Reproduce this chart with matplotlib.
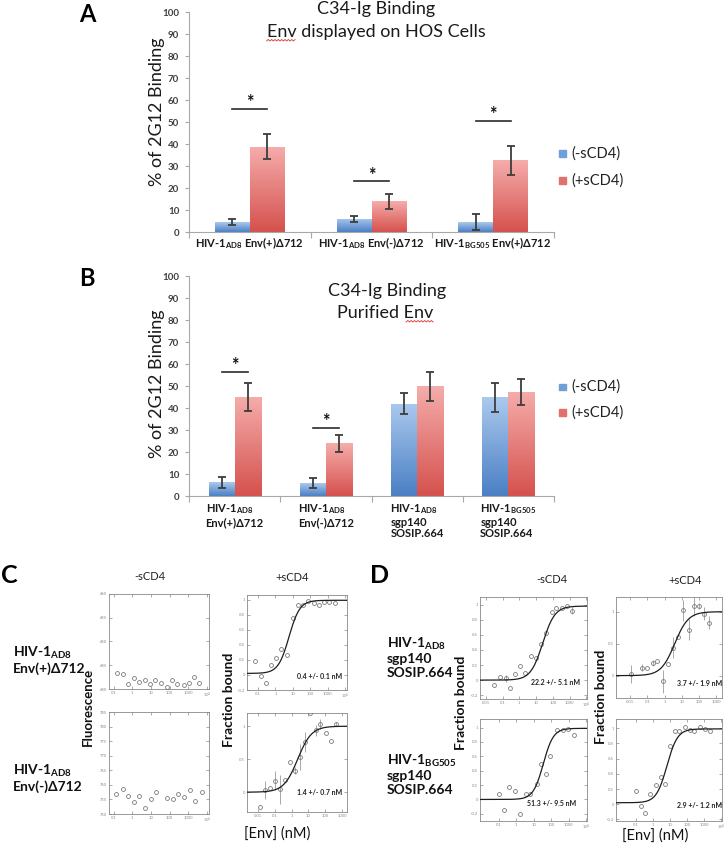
import numpy as np
import matplotlib
matplotlib.use('Agg')
import matplotlib.pyplot as plt
from matplotlib.colors import LinearSegmentedColormap
from matplotlib.patches import Rectangle
from matplotlib.lines import Line2D
from matplotlib.ticker import NullLocator

plt.rcParams['font.family'] = ['Lato', 'DejaVu Sans']
plt.rcParams['mathtext.fontset'] = 'custom'
plt.rcParams['mathtext.rm'] = 'Lato'
plt.rcParams['mathtext.bf'] = 'Lato:bold'
plt.rcParams['mathtext.it'] = 'Lato:italic'

# ---------------- Panel A data ----------------
a_labels = [r'HIV-1$_{\mathbf{AD8}}$ Env(+)Δ712',
            r'HIV-1$_{\mathbf{AD8}}$ Env(-)Δ712',
            r'HIV-1$_{\mathbf{BG505}}$ Env(+)Δ712']
a_minus = [4.5, 6.0, 4.5]
a_minus_err = [1.2, 1.4, 3.8]
a_plus = [38.8, 13.9, 32.5]
a_plus_err = [5.6, 3.4, 6.4]
a_sig = [56, 23, 50.5]

# ---------------- Panel B data ----------------
b_labels = [r'HIV-1$_{\mathbf{AD8}}$' + '\nEnv(+)Δ712',
            r'HIV-1$_{\mathbf{AD8}}$' + '\nEnv(-)Δ712',
            r'HIV-1$_{\mathbf{AD8}}$' + '\nsgp140\nSOSIP.664',
            r'HIV-1$_{\mathbf{BG505}}$' + '\nsgp140\nSOSIP.664']
b_minus = [6.3, 5.9, 42.0, 44.8]
b_minus_err = [2.5, 2.1, 4.6, 6.6]
b_plus = [45.1, 24.0, 49.8, 47.4]
b_plus_err = [6.3, 3.8, 6.4, 6.0]
b_sig = [56.5, 31.0, None, None]

legend_labels = ['(-sCD4)', '(+sCD4)']

# ---------------- Panel C data ----------------
c_tl_x = [0.15, 0.32, 0.6, 1.2, 2.4, 4.7, 9, 17, 35, 69, 134, 260, 590, 1100, 2100, 4000]
c_tl_y = [643.3, 643.1, 641.1, 642.4, 641.5, 641.9, 641.1, 641.9, 641.3, 640.4, 641.9, 641.1,
          640.8, 641.3, 642.6, 641.2]
c_bl_x = [0.14, 0.3, 0.6, 1.2, 2.4, 4.7, 10, 19, 74, 150, 295, 600, 1230, 2300, 5300]
c_bl_y = [756.8, 758.7, 756.2, 754.2, 756.2, 752.0, 755.2, 757.5, 755.6, 755.2, 756.8, 755.9,
          758.2, 754.5, 757.5]
c_tr_x = [0.064, 0.14, 0.27, 0.52, 1.07, 2.2, 4.5, 9.6, 19, 37, 76, 155, 316, 646, 1200, 2600]
c_tr_y = [0.18, -0.01, -0.11, 0.13, 0.23, 0.34, 0.26, 0.75, 0.93, 0.93, 0.98, 0.95, 0.93, 0.97,
          0.97, 0.95]
c_tr_fit = dict(bottom=0.02, top=0.99, ec50=6.0, hill=1.4)
c_br_x = [0.014, 0.026, 0.051, 0.1, 0.2, 0.4, 0.8, 1.6, 3.2, 6.6, 12.5, 27, 51, 112, 220, 460]
c_br_y = [-0.225, 0.035, 0.06, 0.175, 0.045, 0.185, 0.46, 0.325, 0.535, 0.76, 1.2, 0.935, 1.035,
          0.9, 0.775, 1.04]
c_br_err = [0, 0.14, 0, 0.14, 0.22, 0, 0, 0.05, 0.2, 0.15, 0, 0.08, 0.08, 0, 0, 0.03]
c_br_fit = dict(bottom=0.0, top=1.0, ec50=2.3, hill=1.05)

# ---------------- Panel D data ----------------
d_tl_x = [0.03, 0.068, 0.15, 0.27, 0.55, 1.1, 2.2, 4.8, 10, 20, 40, 87, 150, 350, 700, 1400]
d_tl_y = [-0.067, 0.044, 0.022, -0.1, 0.08, 0.19, 0.09, 0.32, 0.29, 0.48, 0.62, 0.9, 0.95, 0.96,
          0.98, 0.92]
d_tl_err = [0, 0, 0.05, 0, 0, 0, 0, 0, 0, 0, 0, 0, 0, 0, 0, 0.05]
d_tl_fit = dict(bottom=0.0, top=0.98, ec50=25, hill=1.2)
d_bl_x = [0.1, 0.2, 0.38, 0.8, 1.6, 3.4, 6.5, 15, 27, 49, 87, 210, 490, 930, 1950]
d_bl_y = [0.08, -0.15, 0.17, 0.12, -0.2, 0.08, 0.08, 0.21, 0.49, 0.35, 0.6, 0.97, 0.97, 0.98, 0.9]
d_bl_fit = dict(bottom=0.0, top=0.99, ec50=35, hill=1.5)
d_tr_x = [0.011, 0.05, 0.1, 0.2, 0.38, 0.78, 1.6, 3.1, 6.3, 12, 25, 48, 100, 200, 380]
d_tr_y = [0.03, 0.125, 0.115, 0.2, 0.235, -0.09, 0.18, 0.44, 0.61, 1.02, 0.72, 1.09, 1.09, 0.97,
          0.83]
d_tr_err = [0.14, 0.05, 0, 0.05, 0, 0.18, 0, 0.17, 0, 0.17, 0.17, 0.15, 0.05, 0.1, 0.1]
d_tr_fit = dict(bottom=0.0, top=1.0, ec50=3.8, hill=1.1)
d_br_x = [0.1, 0.19, 0.36, 0.67, 1.5, 2.8, 5.2, 9.8, 18.5, 35, 72, 136, 257, 550, 1040, 2100]
d_br_y = [0.17, -0.02, -0.12, 0.13, 0.25, 0.36, 0.26, 0.76, 0.96, 0.96, 1.02, 0.97, 0.96, 1.01,
          0.99, 0.96]
d_br_fit = dict(bottom=0.02, top=0.99, ec50=6.5, hill=1.4)

W, H = 728, 846
fig = plt.figure(figsize=(W / 100, H / 100), dpi=100)
fig.patch.set_facecolor('white')


def box(x0, y0, x1, y1):
    return fig.add_axes([x0 / W, 1 - y1 / H, (x1 - x0) / W, (y1 - y0) / H])


def ftext(x, y, s, **kw):
    return fig.text(x / W, 1 - y / H, s, **kw)


blue_cmap = LinearSegmentedColormap.from_list('bl', ['#4a7fc4', '#abc9ee'])
red_cmap = LinearSegmentedColormap.from_list('rd', ['#d5514d', '#f5adab'])
axis_gray = '#a8a8a8'


def bar_panel(ax, labels, minus, minus_err, plus, plus_err, sig, multiline):
    n = len(labels)
    x = np.arange(n)
    w = 0.285
    grad = np.linspace(0, 1, 256).reshape(-1, 1)
    for xs, vals, errs, cmap in [(x - w / 2, minus, minus_err, blue_cmap),
                                 (x + w / 2, plus, plus_err, red_cmap)]:
        bars = ax.bar(xs, vals, w, color='none', edgecolor='none', zorder=2)
        for b in bars:
            im = ax.imshow(grad, extent=(b.get_x(), b.get_x() + b.get_width(), 0, b.get_height()),
                           origin='lower', aspect='auto', cmap=cmap, zorder=2)
            im.set_clip_path(b)
        ax.errorbar(xs, vals, yerr=errs, fmt='none', ecolor='#3d3d3d', elinewidth=1.3,
                    capsize=3, capthick=1.3, zorder=3)
    for xi, s in zip(x, sig):
        if s is None:
            continue
        ax.plot([xi - w / 2, xi + w / 2], [s, s], color='#2b2b2b', lw=1.2, zorder=3)
        ax.text(xi, s + 0.3, '*', ha='center', va='baseline', fontsize=13, fontweight='bold',
                color='#111')
    ax.set_xlim(-0.5, n - 0.5)
    ax.set_ylim(0, 100)
    ax.set_yticks(range(0, 101, 10))
    ax.set_xticks(np.arange(n + 1) - 0.5)
    ax.set_xticklabels([])
    ax.tick_params(axis='x', length=4, color=axis_gray, direction='out')
    ax.tick_params(axis='y', length=3, color=axis_gray, labelsize=7, labelcolor='#404040', pad=4)
    for lbl in ax.get_yticklabels():
        lbl.set_fontweight('bold')
    for sp in ['top', 'right']:
        ax.spines[sp].set_visible(False)
    for sp in ['left', 'bottom']:
        ax.spines[sp].set_color(axis_gray)
    ax.patch.set_alpha(0)
    tr = ax.get_xaxis_transform()
    for xi, lab in zip(x, labels):
        if multiline:
            ax.text(xi, -0.03, lab, transform=tr, ha='center', va='top', multialignment='left',
                    fontsize=8, fontweight='bold', color='#1a1a1a', linespacing=1.05)
        else:
            ax.text(xi, -0.05, lab, transform=tr, ha='center', va='center', fontsize=8,
                    fontweight='bold', color='#1a1a1a')


def legend(y1, y2):
    for yy, col, txt in [(y1, '#6f9fd8', legend_labels[0]), (y2, '#e0716e', legend_labels[1])]:
        fig.add_artist(Rectangle(((562 - 3.5) / W, 1 - (yy + 3.5) / H), 7 / W, 7 / H,
                                 transform=fig.transFigure, color=col))
        ftext(571, yy, txt, fontsize=10.5, va='center', ha='left', color='#222')


# ---------------- Panel A ----------------
axA = box(189, 12, 554, 232)
bar_panel(axA, a_labels, a_minus, a_minus_err, a_plus, a_plus_err, a_sig, False)
ftext(87, 14, 'A', fontsize=17, fontweight='bold', ha='center', va='center')
tA1 = ftext(376, 9, 'C34-Ig Binding', fontsize=13, ha='center', va='center', color='#1a1a1a')
tA2 = ftext(376, 32, 'Env displayed on HOS Cells', fontsize=13, ha='center', va='center',
            color='#1a1a1a')
ftext(157, 112, '% of 2G12 Binding', fontsize=13, rotation=90, ha='center', va='center',
      color='#1a1a1a')
legend(154, 181)

# ---------------- Panel B ----------------
axB = box(189, 276, 554, 496)
bar_panel(axB, b_labels, b_minus, b_minus_err, b_plus, b_plus_err, b_sig, True)
ftext(87, 279, 'B', fontsize=17, fontweight='bold', ha='center', va='center')
tB1 = ftext(387, 291, 'C34-Ig Binding', fontsize=13, ha='center', va='center', color='#1a1a1a')
tB2 = ftext(385, 313, 'Purified Env', fontsize=13, ha='center', va='center', color='#1a1a1a')
ftext(157, 384, '% of 2G12 Binding', fontsize=13, rotation=90, ha='center', va='center',
      color='#1a1a1a')
legend(387, 413)


# ---------------- small plots ----------------
def fmt_tick(v):
    if v >= 10000:
        return r'10$^4$'
    if v == int(v):
        return str(int(v))
    return ('%g' % v)


def small_axes(bx, xlim, ylim, xt, yt):
    ax = box(*bx)
    ax.set_xscale('log')
    ax.set_xlim(*xlim)
    ax.set_ylim(*ylim)
    ax.set_xticks(xt)
    ax.set_xticklabels([fmt_tick(v) for v in xt])
    ax.set_yticks(yt)
    ax.set_yticklabels([fmt_tick(round(v, 2)) for v in yt])
    ax.xaxis.set_minor_locator(NullLocator())
    ax.tick_params(which='both', direction='in', top=True, right=True, length=2, width=0.5,
                   color='#888', labelsize=3, labelcolor='#888', pad=1.5)
    for sp in ax.spines.values():
        sp.set_color('#888')
        sp.set_linewidth(0.6)
    return ax


def points(ax, x, y, err=None):
    if err is not None:
        ax.errorbar(x, y, yerr=err, fmt='none', ecolor='#9a9a9a', elinewidth=0.6, capsize=0,
                    zorder=2)
    ax.plot(x, y, 'o', ms=2.8, mfc='none', mec='#7a7a7a', mew=0.6, zorder=3, clip_on=True)


def fit(ax, p):
    x0, x1 = ax.get_xlim()
    xx = np.logspace(np.log10(x0), np.log10(x1), 300)
    yy = p['bottom'] + (p['top'] - p['bottom']) / (1 + (p['ec50'] / xx) ** p['hill'])
    ax.plot(xx, yy, color='#1e1e1e', lw=0.9, zorder=4)


x_ticks_a = [0.1, 1, 10, 100, 1000, 10000]
x_ticks_b = [0.01, 0.1, 1, 10, 100, 1000]
x_ticks_c = [0.01, 0.1, 1, 10, 100, 1000, 10000]
y_frac = [-0.2, 0, 0.2, 0.4, 0.6, 0.8, 1]
y_half = [0, 0.5, 1]

ax = small_axes((109, 594, 209, 689), (0.056, 1.3e4), (640, 660), x_ticks_a, [640, 645, 650, 655, 660])
points(ax, c_tl_x, c_tl_y)
ax = small_axes((109, 712, 209, 814), (0.056, 1.3e4), (750, 785), x_ticks_a, list(range(750, 786, 5)))
points(ax, c_bl_x, c_bl_y)
ax = small_axes((247, 595, 347, 690), (0.023, 1.3e4), (-0.2, 1.06), x_ticks_a, y_frac)
points(ax, c_tr_x, c_tr_y)
fit(ax, c_tr_fit)
ax = small_axes((247, 713, 347, 812), (0.0022, 2000), (-0.3, 1.2), x_ticks_b, y_half)
points(ax, c_br_x, c_br_y, c_br_err)
fit(ax, c_br_fit)

ax = small_axes((480, 597, 587, 699), (0.0045, 1.1e4), (-0.25, 1.1), x_ticks_c, y_frac)
points(ax, d_tl_x, d_tl_y, d_tl_err)
fit(ax, d_tl_fit)
ax = small_axes((480, 719, 587, 821), (0.0085, 1.1e4), (-0.3, 1.12), x_ticks_a, y_frac)
points(ax, d_bl_x, d_bl_y)
fit(ax, d_bl_fit)
ax = small_axes((616, 597, 722, 698), (0.0015, 2100), (-0.35, 1.23), x_ticks_b, y_half)
points(ax, d_tr_x, d_tr_y, d_tr_err)
fit(ax, d_tr_fit)
ax = small_axes((616, 719, 722, 821), (0.0069, 1.07e4), (-0.22, 1.12), x_ticks_a, y_frac)
points(ax, d_br_x, d_br_y)
fit(ax, d_br_fit)

# ---------------- texts of C and D ----------------
ftext(1, 575, 'C', fontsize=18, fontweight='bold', ha='left', va='center')
ftext(380, 575, 'D', fontsize=18, fontweight='bold', ha='center', va='center')
for x, y, s in [(150, 576, '-sCD4'), (292, 577, '+sCD4'), (552, 579, '-sCD4'), (685, 580, '+sCD4')]:
    ftext(x, y, s, fontsize=8, ha='center', va='center', color='#222')

row_kw = dict(fontsize=10, fontweight='bold', ha='left', va='center', linespacing=1.15,
              color='#111')
ftext(13, 660, r'HIV-1$_{\mathbf{AD8}}$' + '\nEnv(+)Δ712', **row_kw)
ftext(13, 778, r'HIV-1$_{\mathbf{AD8}}$' + '\nEnv(-)Δ712', **row_kw)
ftext(387, 657, r'HIV-1$_{\mathbf{AD8}}$' + '\nsgp140\nSOSIP.664', **row_kw)
ftext(387, 774, r'HIV-1$_{\mathbf{BG505}}$' + '\nsgp140\nSOSIP.664', **row_kw)

ylab_kw = dict(fontweight='bold', rotation=90, ha='center', va='center', color='#111')
ftext(88, 707, 'Fluorescence', fontsize=9.5, **ylab_kw)
ftext(229, 700, 'Fraction bound', fontsize=10, **ylab_kw)
ftext(461, 703, 'Fraction bound', fontsize=10, **ylab_kw)
ftext(601, 697, 'Fraction bound', fontsize=10, **ylab_kw)
ftext(277, 834, '[Env] (nM)', fontsize=10.5, ha='center', va='center', color='#111')
ftext(655, 836, '[Env] (nM)', fontsize=10.5, ha='center', va='center', color='#111')

ann_kw = dict(fontsize=5, fontweight='bold', ha='center', va='center', color='#222')
ftext(320, 676, '0.4 +/- 0.1 nM', **ann_kw)
ftext(320, 792, '1.4 +/- 0.7 nM', **ann_kw)
ftext(556, 682, '22.2 +/- 5.1 nM', **ann_kw)
ftext(552, 803, '51.3 +/- 9.5 nM', **ann_kw)
ftext(700, 683, '3.7 +/- 1.9 nM', **ann_kw)
ftext(700, 805, '2.9 +/- 1.2 nM', **ann_kw)

# ---------------- spell-check squiggles under "Env" ----------------
fig.canvas.draw()
renderer = fig.canvas.get_renderer()


def squiggle(t, frac0, frac1):
    bb = t.get_window_extent(renderer)
    xa = bb.x0 + frac0 * bb.width
    xb = bb.x0 + frac1 * bb.width
    n = max(int((xb - xa) / 1.5), 2)
    xs = np.linspace(xa, xb, n)
    ys = bb.y0 - 1 + np.where(np.arange(n) % 2 == 0, 0.0, 1.5)
    fig.add_artist(Line2D(xs / (W), ys / (H), transform=fig.transFigure, color='#e03030', lw=0.6))


squiggle(tA2, 0.0, 0.13)
squiggle(tB2, 0.72, 1.0)

fig.savefig('out.png', dpi=100, facecolor='white')
